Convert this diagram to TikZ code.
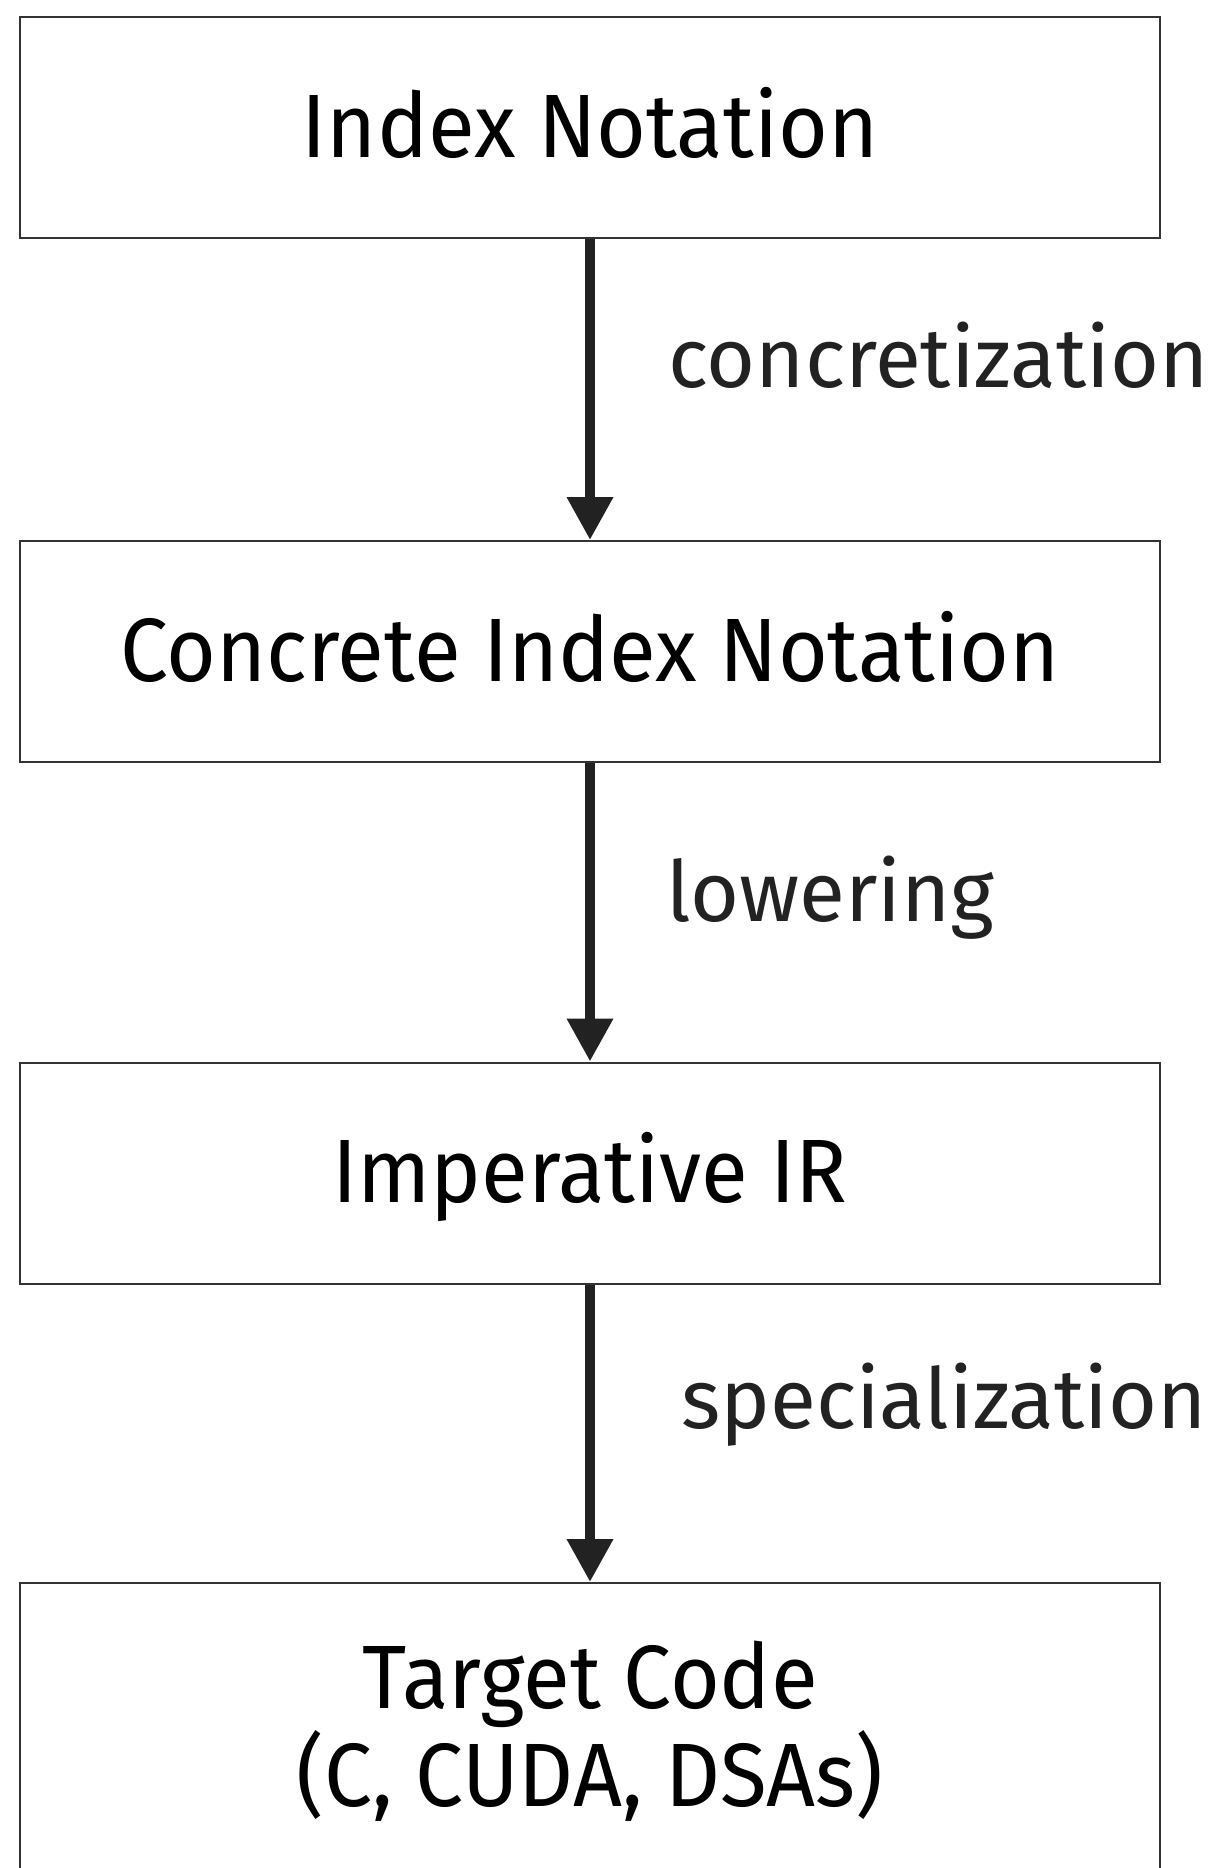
\documentclass[tikz,border=0pt]{standalone}
\usepackage{fontspec}
\setmainfont{Fira Sans}
\newfontfamily\boxfont[FakeStretch=0.95]{Fira Sans}
\usetikzlibrary{arrows.meta}
\definecolor{boxline}{HTML}{333333}
\definecolor{arrowc}{HTML}{222222}
\definecolor{labelc}{HTML}{222222}
\begin{document}
\begin{tikzpicture}[x=1pt,y=-1pt,
  stagebox/.style={draw=boxline, line width=2pt, fill=white, minimum width=1140pt,
     minimum height=221pt, inner sep=0pt, text=black, font=\boxfont\fontsize{90}{98}\selectfont,
     text height=63pt, text depth=4pt},
  flow/.style={draw=arrowc, line width=10pt, -{Triangle[width=44pt,length=43pt]}},
  edgelabel/.style={anchor=base west, inner sep=0pt, text=labelc, font=\fontsize{84}{92}\selectfont}
]
\useasboundingbox[fill=white] (0,0) rectangle (1224,1868);
\node[stagebox] (idx) at (590,127.5) {Index Notation};
\node[stagebox] (cin) at (590,651.5) {Concrete Index Notation};
\node[stagebox] (imp) at (590,1173) {Imperative IR};
\node[stagebox, minimum height=296pt, text height=, text depth=, align=center] (tgt) at (590,1731) {Target Code\\(C, CUDA, DSAs)};
\draw[flow] (idx.south) -- (cin.north);
\draw[flow] (cin.south) -- (imp.north);
\draw[flow] (imp.south) -- (tgt.north);
\node[edgelabel] (l1) at (668,387) {concretization};
\node[edgelabel] (l2) at (666,921) {lowering};
\node[edgelabel] (l3) at (681,1428) {specialization};
\end{tikzpicture}
\end{document}
